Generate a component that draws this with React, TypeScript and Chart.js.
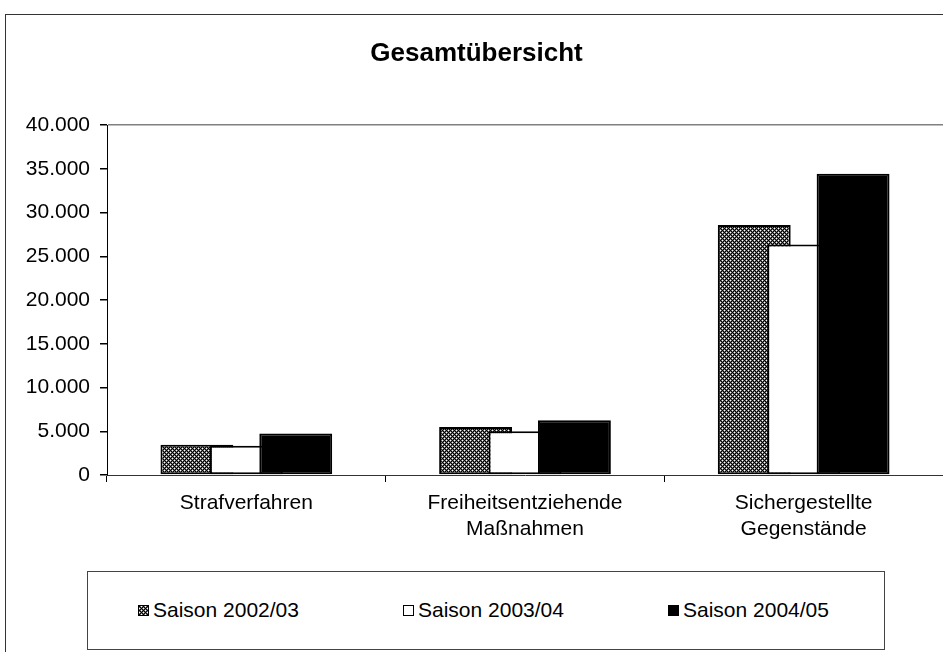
import React, { useEffect, useRef, useState } from "react";
import { Chart, registerables } from "chart.js";

Chart.register(...registerables);

const categories: string[][] = [
  ["Strafverfahren"],
  ["Freiheitsentziehende", "Maßnahmen"],
  ["Sichergestellte", "Gegenstände"],
];
const seriesNames = ["Saison 2002/03", "Saison 2003/04", "Saison 2004/05"];
const saison0203 = [3450, 5500, 28600];
const saison0304 = [3350, 5000, 26350];
const saison0405 = [4750, 6250, 34450];
const yMin = 0;
const yMax = 40000;
const yStep = 5000;

const FONT = "'Liberation Sans', Arial, sans-serif";

function formatDe(v: number): string {
  return String(Math.round(v)).replace(/\B(?=(\d{3})+(?!\d))/g, ".");
}

function makeTile(): HTMLCanvasElement {
  const c = document.createElement("canvas");
  c.width = 4;
  c.height = 4;
  const g = c.getContext("2d")!;
  g.fillStyle = "#6e6e6e";
  g.fillRect(0, 0, 4, 4);
  g.fillStyle = "#000";
  [[0, 0], [1, 1], [2, 2], [3, 3], [1, 3], [3, 1]].forEach(([x, y]) => g.fillRect(x, y, 1, 1));
  g.fillStyle = "#fff";
  [[0, 2], [2, 0]].forEach(([x, y]) => g.fillRect(x, y, 1, 1));
  return c;
}

const drawInOrderPlugin = {
  id: "drawInOrder",
  beforeDatasetsDraw(chart: any) {
    const metas = chart.getSortedVisibleDatasetMetas();
    for (let i = 0; i < metas.length; i++) {
      chart._drawDataset(metas[i]);
    }
    return false;
  },
};

export default function App() {
  const ref = useRef<HTMLCanvasElement>(null);
  const [markerUrl, setMarkerUrl] = useState("");

  useEffect(() => {
    const canvas = ref.current!;
    const ctx = canvas.getContext("2d")!;
    const tile = makeTile();
    const pattern = ctx.createPattern(tile, "repeat")!;
    setMarkerUrl(tile.toDataURL());

    const fills = [pattern, "#ffffff", "#000000"];
    const values = [saison0203, saison0304, saison0405];

    const chart = new Chart(canvas, {
      type: "bar",
      data: {
        labels: categories,
        datasets: values.map((vals, i) => ({
          label: seriesNames[i],
          data: vals,
          backgroundColor: fills[i] as any,
          borderColor: "#000",
          borderWidth: 2,
          borderSkipped: false,
          categoryPercentage: 0.532,
          barPercentage: 1.475,
        })),
      },
      options: {
        responsive: false,
        devicePixelRatio: 1,
        animation: false,
        layout: { padding: { left: 10, right: 0, top: 0, bottom: 0 } },
        plugins: {
          legend: { display: false },
          tooltip: { enabled: false },
          title: {
            display: true,
            text: "Gesamtübersicht",
            color: "#000",
            font: { family: FONT, size: 26, weight: "bold" },
            padding: { top: 38, bottom: 56 },
          },
        },
        scales: {
          x: {
            type: "category",
            offset: true,
            grid: {
              offset: true,
              drawOnChartArea: false,
              tickLength: 7,
              tickColor: "#000",
            },
            border: { color: "#333", width: 1 },
            ticks: {
              color: "#000",
              font: { family: FONT, size: 21 },
              padding: 9,
              maxRotation: 0,
              autoSkip: false,
            },
            afterFit: (s: any) => {
              s.height = 85;
            },
          },
          y: {
            min: yMin,
            max: yMax,
            ticks: {
              stepSize: yStep,
              color: "#000",
              font: { family: FONT, size: 21 },
              padding: 10,
              callback: (v: any) => formatDe(Number(v)),
            },
            grid: {
              color: (c: any) => (c.tick && c.tick.value === yMax ? "#808080" : "rgba(0,0,0,0)"),
              tickColor: "#000",
              tickLength: 7,
              lineWidth: 1.5,
            },
            border: { color: "#000", width: 1 },
            afterFit: (s: any) => {
              s.width = 97;
            },
          },
        },
      },
      plugins: [drawInOrderPlugin],
    } as any);

    return () => chart.destroy();
  }, []);

  const markerStyles: React.CSSProperties[] = [
    { backgroundImage: markerUrl ? `url(${markerUrl})` : undefined, backgroundColor: "#6e6e6e" },
    { backgroundColor: "#fff" },
    { backgroundColor: "#000" },
  ];

  return (
    <div
      style={{
        position: "fixed",
        left: 0,
        top: 0,
        width: 943,
        height: 652,
        overflow: "hidden",
        background: "#fff",
        fontFamily: FONT,
      }}
    >
      <div
        style={{
          position: "absolute",
          left: 5,
          top: 14,
          width: 980,
          height: 700,
          border: "1px solid #333",
        }}
      />
      <canvas
        ref={ref}
        width={943}
        height={560}
        style={{ position: "absolute", left: 0, top: 0, width: 943, height: 560 }}
      />
      <div
        style={{
          position: "absolute",
          left: 87,
          top: 571,
          width: 798,
          height: 79,
          border: "1px solid #444",
          boxSizing: "border-box",
        }}
      >
        {seriesNames.map((name, i) => (
          <div
            key={name}
            style={{
              position: "absolute",
              left: 50 + 265 * i,
              top: 25,
              height: 26,
              display: "flex",
              alignItems: "center",
              whiteSpace: "nowrap",
              fontSize: 21,
              color: "#000",
            }}
          >
            <span
              style={{
                display: "inline-block",
                width: 11,
                height: 11,
                border: "1.5px solid #000",
                boxSizing: "border-box",
                marginRight: 4,
                imageRendering: "pixelated",
                ...markerStyles[i],
              }}
            />
            <span>{name}</span>
          </div>
        ))}
      </div>
    </div>
  );
}
